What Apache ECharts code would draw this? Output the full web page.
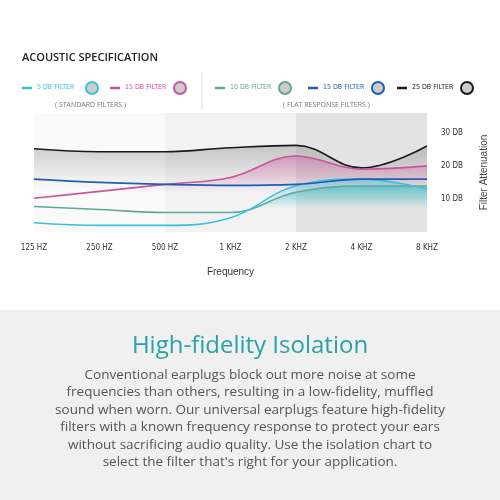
<!DOCTYPE html>
<html><head><meta charset="utf-8">
<script src="https://cdn.jsdelivr.net/npm/echarts@6/dist/echarts.min.js"></script>
<style>body{margin:0;background:#fff}#c{width:500px;height:500px}</style></head>
<body><div id="c"></div>
<script>
const categories = ['125 HZ','250 HZ','500 HZ','1 KHZ','2 KHZ','4 KHZ','8 KHZ'];
const yTicks = [10, 20, 30];
const s25flat = [25.2, 24.3, 24.3, 25.5, 26.2, 19.4, 26];
const s15std = [10.2, 12.3, 14.4, 16.5, 23, 19, 20];
const s15flat = [16, 15, 14.4, 14.1, 14.4, 16, 16];
const s10flat = [7.7, 6.8, 5.9, 5.9, 12, 13.9, 13.9];
const s5std = [2.8, 2, 2, 4.3, 14, 16, 13];

const chart = echarts.init(document.getElementById('c'));
function grad(c, a){return {type:'linear',x:0,y:0,x2:0,y2:1,colorStops:[{offset:0,color:c.replace('A',a)},{offset:0.5,color:c.replace('A',0)}]};}
function ser(name, data, color, fill, z){
  return {name, type:'line', data, smooth:0.4, symbol:'none', z,
    lineStyle:{color, width:1.6},
    areaStyle: fill ? {color: fill} : undefined};
}
const legendItems = [
  {x:22, c:'#3bbfe0', t:'5 DB FILTER'},
  {x:110, c:'#c9559a', t:'15 DB FILTER'},
  {x:215, c:'#5fa896', t:'10 DB FILTER'},
  {x:308, c:'#1f5fb0', t:'15 DB FILTER'},
  {x:397, c:'#1a1a1a', t:'25 DB FILTER'}
];
const graphic = [
  {type:'rect', shape:{x:0,y:310,width:500,height:190}, style:{fill:'#f0f0f0'}, z:-10},
  {type:'text', left:22, top:52, style:{text:'ACOUSTIC SPECIFICATION', font:'600 11px "Open Sans"', fill:'#222'}},
  {type:'line', shape:{x1:202,y1:72,x2:202,y2:110}, style:{stroke:'#ddd'}},
  {type:'text', x:55, y:101, style:{text:'( STANDARD FILTERS )', font:'7px "Open Sans"', fill:'#777'}},
  {type:'text', x:283, y:101, style:{text:'( FLAT RESPONSE FILTERS )', font:'7px "Open Sans"', fill:'#777'}},
  {type:'text', x:250, y:334, style:{text:'High-fidelity Isolation', font:'24px "Open Sans"', fill:'#2aa1a6', align:'center'}},
  {type:'text', x:250, y:366, style:{text:'Conventional earplugs block out more noise at some\nfrequencies than others, resulting in a low-fidelity, muffled\nsound when worn. Our universal earplugs feature high-fidelity\nfilters with a known frequency response to protect your ears\nwithout sacrificing audio quality. Use the isolation chart to\nselect the filter that\'s right for your application.', font:'13.5px "Open Sans"', fill:'#555', align:'center', lineHeight:17.5}}
];
legendItems.forEach(l=>{
  graphic.push({type:'line', shape:{x1:l.x,y1:88,x2:l.x+10,y2:88}, style:{stroke:l.c, lineWidth:2.5}});
  graphic.push({type:'text', x:l.x+15, y:84, style:{text:l.t, font:'7px "DejaVu Sans Condensed"', fill:l.c}});
  graphic.push({type:'circle', shape:{cx:l.x+70,cy:88,r:6}, style:{fill:'#ccc', stroke:l.c, lineWidth:2}});
});
chart.setOption({
  animation:false,
  grid:{left:34, right:73, top:113, bottom:268},
  xAxis:{type:'category', data:categories, boundaryGap:false,
    axisLine:{show:false}, axisTick:{show:false},
    axisLabel:{color:'#333', fontSize:8, fontFamily:'DejaVu Sans Condensed', margin:12},
    splitLine:{show:false},
    name:'Frequency', nameLocation:'middle', nameGap:35, nameTextStyle:{color:'#333', fontSize:10}},
  yAxis:{type:'value', position:'right', min:0, max:36, interval:10,
    axisLine:{show:false}, axisTick:{show:false},
    axisLabel:{color:'#333', fontSize:8, fontFamily:'DejaVu Sans Condensed', margin:14,
      formatter:v=>yTicks.includes(v)?v+' DB':''},
    splitLine:{show:true, lineStyle:{color:'rgba(255,255,255,0.9)', width:1.5}},
    name:'Filter Attenuation', nameLocation:'middle', nameRotate:90, nameGap:52, nameTextStyle:{color:'#444', fontSize:10}},
  graphic,
  series:[
    Object.assign(ser('25', s25flat, '#1a1a1a', grad('rgba(60,60,60,A)',0.35), 3), {
      markArea:{silent:true, data:[
        [{xAxis:'125 HZ', itemStyle:{color:'rgba(0,0,0,0.02)'}},{xAxis:'500 HZ'}],
        [{xAxis:'500 HZ', itemStyle:{color:'rgba(0,0,0,0.05)'}},{xAxis:'2 KHZ'}],
        [{xAxis:'2 KHZ', itemStyle:{color:'rgba(0,0,0,0.11)'}},{xAxis:'8 KHZ'}]
      ]}}),
    ser('15s', s15std, '#c9559a', grad('rgba(210,80,160,A)',0.6), 4),
    ser('15f', s15flat, '#1f5fb0', null, 6),
    ser('10', s10flat, '#5fa896', grad('rgba(40,180,170,A)',0.7), 5),
    ser('5', s5std, '#3bbfe0', grad('rgba(50,190,230,A)',0.6), 5)
  ]
});
</script></body></html>
